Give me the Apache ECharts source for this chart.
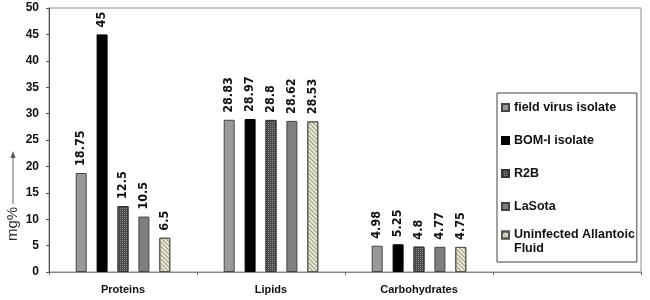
<!DOCTYPE html>
<html>
<head>
<meta charset="utf-8">
<script src="https://cdn.jsdelivr.net/npm/echarts@6/dist/echarts.min.js"></script>
<style>
  html, body { margin: 0; padding: 0; background: #fff; }
  #chart { width: 650px; height: 300px; }
</style>
</head>
<body>
<div id="chart"></div>
<script>
// data (mg%)
const categories = ['Proteins', 'Lipids', 'Carbohydrates', '']
const seriesNames = ['field virus isolate', 'BOM-I isolate', 'R2B', 'LaSota', 'Uninfected Allantoic Fluid']
const fieldVirus = [18.75, 28.83, 4.98]
const bomIsolate = [45, 28.97, 5.25]
const r2b = [12.5, 28.8, 4.8]
const laSota = [10.5, 28.62, 4.77]
const uninfected = [6.5, 28.53, 4.75]
const yTicks = { min: 0, max: 50, interval: 5 }

const font = 'Liberation Sans, Arial, sans-serif'
const narrow = 'DejaVu Sans Condensed, Liberation Sans Narrow, Liberation Sans, Arial, sans-serif'

const styles = [
  { color: '#999999', borderColor: '#444', borderWidth: 1 },
  { color: '#000000', borderColor: '#000', borderWidth: 1 },
  {
    color: '#4a4a4a', borderColor: '#333', borderWidth: 1,
    decal: { symbol: 'rect', color: '#8a8a8a', symbolSize: 1, dashArrayX: [1, 1], dashArrayY: [1, 1], rotation: 0 }
  },
  { color: '#7f7f7f', borderColor: '#444', borderWidth: 1 },
  {
    color: '#ecead4', borderColor: '#555', borderWidth: 1,
    decal: { symbol: 'rect', color: '#9a9a8a', symbolSize: 1, dashArrayX: [1, 0], dashArrayY: [1, 2], rotation: Math.PI / 4 }
  }
]

const values = [fieldVirus, bomIsolate, r2b, laSota, uninfected]

// icon box is 7x21: square in the middle, or at the top for the wrapped name
const midSquare = 'path://M0,0M0,7h7v7h-7zM7,21'
const topSquare = 'path://M0,0h7v7h-7zM7,21'
const legendData = seriesNames.map(name => ({
  name: name,
  icon: name === 'Uninfected Allantoic Fluid' ? topSquare : midSquare
}))

const chart = echarts.init(document.getElementById('chart'))
chart.setOption({
  animation: false,
  grid: {
    left: 49,
    right: 9,
    top: 8,
    bottom: 28,
    show: true,
    borderColor: '#8c8c8c',
    borderWidth: 1,
    backgroundColor: 'transparent'
  },
  legend: {
    orient: 'vertical',
    left: 497,
    top: 93,
    data: legendData,
    itemWidth: 7,
    itemHeight: 21,
    itemGap: 10,
    padding: [3, 2, 6, 4],
    borderColor: '#444',
    borderWidth: 1,
    formatter: function(name) {
      return name === 'Uninfected Allantoic Fluid' ? 'Uninfected Allantoic\nFluid' : name
    },
    textStyle: {
      fontFamily: font,
      fontSize: 12.5,
      fontWeight: 'bold',
      color: '#111',
      lineHeight: 14
    }
  },
  xAxis: {
    type: 'category',
    data: categories,
    axisLine: { lineStyle: { color: '#888' } },
    axisTick: { show: true, length: 3, lineStyle: { color: '#666' } },
    axisLabel: {
      margin: 12,
      fontFamily: font,
      fontSize: 11,
      fontWeight: 'bold',
      color: '#111'
    }
  },
  yAxis: {
    type: 'value',
    min: yTicks.min,
    max: yTicks.max,
    interval: yTicks.interval,
    axisLine: { show: true, lineStyle: { color: '#555' } },
    axisTick: { show: true, length: 3, lineStyle: { color: '#555' } },
    splitLine: { show: false },
    axisLabel: {
      margin: 10,
      fontFamily: font,
      fontSize: 12,
      fontWeight: 'bold',
      color: '#111'
    }
  },
  graphic: [
    {
      type: 'text',
      x: 13,
      y: 224,
      rotation: Math.PI / 2,
      style: {
        text: 'mg%',
        fontFamily: font,
        fontSize: 15,
        fill: '#333',
        align: 'center',
        verticalAlign: 'middle'
      }
    },
    {
      type: 'line',
      shape: { x1: 13, y1: 204, x2: 13, y2: 156 },
      style: { stroke: '#666', lineWidth: 1 }
    },
    {
      type: 'polygon',
      shape: { points: [[13, 151], [10.5, 158], [15.5, 158]] },
      style: { fill: '#555' }
    }
  ],
  series: seriesNames.map((name, i) => ({
    name: name,
    type: 'bar',
    data: values[i],
    barWidth: 11,
    barGap: '90%',
    itemStyle: styles[i],
    label: {
      show: true,
      position: 'top',
      rotate: 90,
      align: 'left',
      verticalAlign: 'middle',
      distance: 7,
      fontFamily: narrow,
      fontSize: 12.5,
      fontWeight: 'bold',
      color: '#111'
    }
  }))
})
</script>
</body>
</html>
